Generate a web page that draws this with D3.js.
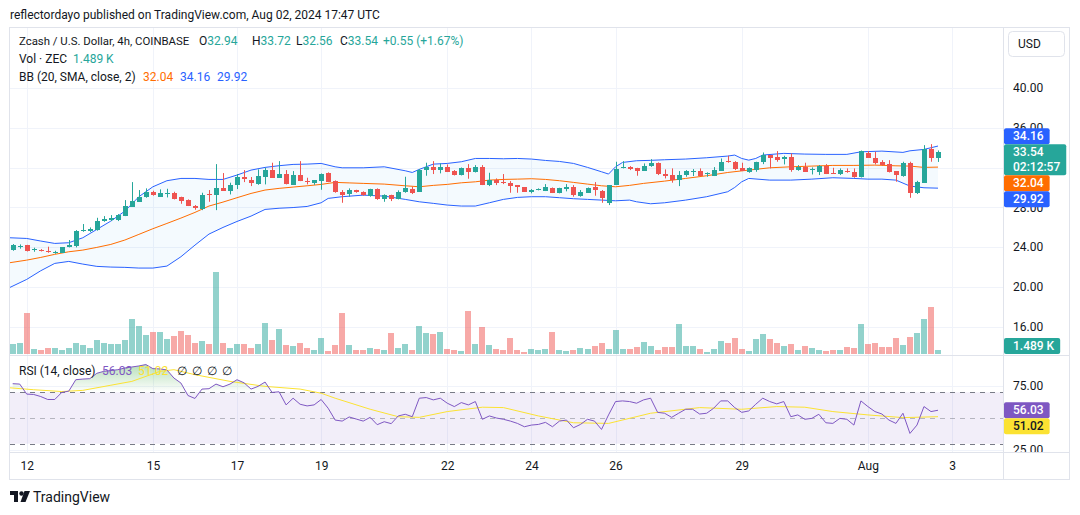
<!DOCTYPE html>
<html>
<head>
<meta charset="utf-8">
<script src="https://cdn.jsdelivr.net/npm/d3@7"></script>
<style>
  body { margin: 0; background: #ffffff; }
  text { font-family: Roboto, "Liberation Sans", sans-serif; }
</style>
</head>
<body>
<svg id="chart" width="1080" height="515"></svg>
<script>
// ZEC/USD 4h candles, Jul 11 16:00 -> Aug 02 16:00 (UTC)
const opens = [23.72,24.03,24.19,23.66,23.72,23.59,23.42,23.42,24.03,24.09,
  25.57,25.60,25.67,26.61,26.71,26.71,27.15,28.05,28.55,28.99,
  29.53,29.06,29.39,29.46,28.99,28.72,28.15,27.78,29.29,29.22,
  29.93,29.66,30.23,31.04,30.73,30.30,31.04,31.74,30.97,31.34,
  30.26,31.24,30.63,30.47,30.67,31.40,30.60,29.56,29.33,29.73,
  29.53,29.12,29.80,28.79,29.22,28.82,29.49,29.80,29.56,31.74,
  32.07,31.74,32.04,31.61,31.24,31.97,31.54,32.04,30.23,30.73,
  30.56,30.47,30.23,29.99,29.53,29.73,29.63,29.93,29.43,29.86,
  30.06,29.12,29.46,29.99,29.63,28.45,30.23,31.91,32.07,31.97,
  31.67,32.14,32.48,31.34,31.24,30.73,31.24,31.57,31.64,31.30,
  31.14,31.67,32.64,32.54,31.97,31.57,31.74,32.58,33.25,33.05,
  32.81,33.05,31.74,32.07,31.74,31.57,32.14,31.47,31.30,31.64,
  31.54,31.07,33.48,32.91,32.58,32.34,31.64,31.17,32.48,29.39,
  30.46,33.82,32.94];
const highs = [24.30,24.26,24.22,23.93,23.79,24.03,23.62,24.00,24.70,25.70,
  26.31,25.97,26.94,27.11,27.21,27.31,28.72,30.53,29.73,29.90,
  29.66,29.80,29.86,29.56,29.06,28.79,28.22,29.46,29.73,32.34,
  31.44,30.47,31.34,31.74,31.04,31.81,31.97,32.48,32.64,31.74,
  31.64,32.64,30.97,30.73,31.40,31.51,30.70,29.73,29.90,29.76,
  29.60,29.86,29.90,29.30,29.26,29.70,31.07,30.06,31.84,32.48,
  32.64,32.41,32.31,31.74,32.00,32.34,32.24,32.24,31.47,30.90,
  31.34,30.63,30.23,29.99,29.83,29.90,30.33,29.99,29.96,30.33,
  30.23,29.73,29.99,30.53,29.73,30.23,32.58,32.64,32.14,31.97,
  32.41,32.84,32.51,31.81,31.91,31.64,31.74,31.84,31.91,31.51,
  32.04,32.91,33.18,32.64,32.48,32.01,32.58,33.51,33.25,33.65,
  33.18,33.41,32.24,32.48,32.01,32.24,32.34,31.97,31.91,31.91,
  31.91,33.71,33.65,33.58,32.74,32.74,31.64,32.58,32.58,30.66,
  34.25,34.35,33.72];
const lows = [23.62,23.83,23.55,23.52,23.55,23.42,23.32,23.40,23.96,23.96,
  25.53,25.50,25.64,26.54,26.61,26.61,27.11,28.05,28.55,28.96,
  29.16,29.06,28.99,28.79,28.35,28.12,27.75,27.71,28.55,27.71,
  29.66,29.29,29.83,30.53,30.13,30.26,30.30,30.97,30.97,30.30,
  30.26,30.63,30.30,30.26,29.76,30.53,29.46,28.45,29.06,29.46,
  29.16,29.06,28.75,28.55,28.62,28.79,29.46,29.33,29.56,31.17,
  31.34,31.41,31.54,31.20,31.20,30.87,31.50,30.23,30.13,30.23,
  30.33,29.46,29.46,29.56,29.40,29.70,29.63,29.43,29.40,29.60,
  29.06,29.06,29.46,29.16,28.45,28.22,30.23,31.91,31.74,31.17,
  31.67,32.07,31.24,30.90,30.47,30.13,31.07,31.14,31.17,31.07,
  31.14,31.67,32.48,31.74,31.64,31.47,31.57,32.34,31.91,32.58,
  32.31,31.57,31.67,31.57,31.30,31.24,31.34,31.41,31.24,31.47,
  30.97,31.00,32.98,32.31,32.17,31.50,30.57,31.07,28.95,29.33,
  30.46,32.58,32.56];
const closes = [24.19,24.13,23.62,23.79,23.59,23.46,23.52,23.99,24.23,25.60,
  25.74,25.77,26.61,26.78,26.91,27.18,28.12,28.62,29.02,29.53,
  29.22,29.43,29.46,28.86,28.62,28.15,27.88,29.19,29.19,29.90,
  29.66,30.26,31.07,30.83,30.47,31.14,31.74,30.97,31.34,30.30,
  31.24,30.63,30.53,30.73,31.34,30.57,29.56,29.22,29.73,29.49,
  29.19,29.80,28.79,29.22,28.79,29.56,29.90,29.46,31.74,32.07,
  31.74,32.07,31.57,31.27,31.97,31.54,32.04,30.23,30.73,30.40,
  30.47,30.16,29.99,29.56,29.73,29.86,29.99,29.46,29.93,30.06,
  29.22,29.53,29.93,29.73,28.92,30.23,31.81,32.01,31.84,31.67,
  32.14,32.48,31.30,31.14,30.73,31.24,31.64,31.67,31.17,31.40,
  31.74,32.54,32.51,31.84,31.64,31.94,32.58,33.25,32.91,32.74,
  33.05,31.74,32.07,31.57,31.84,32.14,31.34,31.41,31.74,31.54,
  31.07,33.65,32.98,32.41,32.24,31.57,31.24,32.48,29.39,30.56,
  33.82,32.99,33.54];
// volume in thousands of ZEC
const volumesK = [3.7,4.1,15.3,1.9,1.5,2.2,2.2,1.5,2.2,4.1,
  3.3,2.2,5.2,4.1,3.7,3.7,5.2,13.0,10.4,7.1,
  8.2,8.2,5.6,6.7,8.6,7.1,4.1,4.8,3.7,30.5,
  4.1,2.2,3.7,3.7,2.2,3.7,11.5,5.2,9.3,3.3,
  3.0,4.1,2.2,1.5,6.0,1.1,3.3,15.3,3.3,1.5,
  1.5,2.2,1.9,1.5,7.8,2.2,3.7,1.5,10.4,7.8,
  7.4,8.2,1.9,1.5,1.1,16.0,3.7,10.0,3.3,1.9,
  1.5,6.0,1.5,0.7,1.9,1.5,1.9,8.2,1.5,1.1,
  1.5,2.2,1.9,3.0,4.1,1.9,8.9,1.9,1.9,2.6,
  4.5,3.0,1.5,2.6,2.6,11.2,3.0,3.0,1.9,0.7,
  1.9,4.8,4.1,6.0,1.9,1.1,5.6,7.4,5.6,4.1,
  3.0,3.7,1.5,3.0,2.2,1.5,1.1,1.5,1.5,2.6,
  2.2,11.2,3.7,4.1,2.6,2.6,6.0,3.3,6.3,7.8,
  13.0,17.5,1.489];

// Bollinger bands (20, 2) as [bar index, price]
const bbUpper = [[-0.4,24.93],[2,24.86],[4,24.60],[6,24.36],[8,24.43],[10,24.93],[12,25.77],[14,26.61],[16,27.61],[18,29.06],[19,29.56],[20,30.06],[22,30.67],[24,30.90],[26,30.90],[28,30.80],[30,30.80],[32,31.24],[34,31.74],[36,32.01],[38,32.18],[40,32.31],[42,32.34],[44,32.41],[46,32.07],[47,31.97],[50,31.97],[53,32.07],[56,31.67],[57,31.50],[58,31.81],[60,32.34],[62,32.41],[64,32.58],[66,32.91],[68,32.91],[70,32.88],[72,32.91],[74,32.85],[76,32.71],[78,32.61],[80,32.41],[82,32.01],[84,31.57],[85,31.34],[86,32.07],[87,32.51],[89,32.68],[91,32.72],[93,32.78],[96,32.85],[99,32.98],[102,33.15],[103,33.25],[104,32.91],[105,32.74],[106,32.91],[107,33.25],[110,33.42],[113,33.35],[116,33.32],[119,33.32],[121,33.58],[124,33.65],[127,33.52],[128,33.68],[130,33.82],[132,34.16]];
const bbMiddle = [[-0.4,22.42],[2,22.68],[4,22.95],[6,23.26],[8,23.52],[10,23.69],[12,23.96],[14,24.26],[16,24.70],[18,25.27],[20,25.84],[22,26.37],[24,26.91],[26,27.48],[28,28.12],[30,28.52],[32,28.96],[34,29.39],[36,29.73],[38,29.90],[40,30.03],[42,30.16],[44,30.30],[46,30.50],[48,30.45],[50,30.40],[53,30.33],[56,30.16],[58,30.06],[60,30.20],[62,30.30],[64,30.46],[66,30.56],[68,30.73],[70,30.80],[72,30.83],[74,30.87],[76,30.80],[78,30.67],[80,30.50],[82,30.33],[84,30.16],[86,30.06],[88,30.20],[90,30.40],[93,30.63],[96,30.90],[99,31.17],[102,31.50],[105,31.74],[108,31.97],[111,32.07],[114,32.14],[117,32.21],[120,32.21],[123,32.24],[126,32.17],[128,32.14],[130,32.01],[132,32.04]];
const bbLower = [[-0.4,19.93],[2,20.74],[4,21.61],[6,22.35],[8,22.55],[10,22.28],[12,22.05],[14,21.98],[16,21.95],[18,21.88],[20,21.88],[22,22.08],[24,23.02],[26,24.19],[28,25.30],[30,25.97],[32,26.57],[34,27.11],[36,27.78],[38,27.90],[40,27.97],[42,28.08],[44,28.45],[45,28.89],[47,29.06],[50,29.22],[53,29.12],[56,28.79],[58,28.55],[60,28.39],[62,28.22],[64,28.12],[66,28.12],[68,28.45],[70,28.79],[72,28.99],[74,29.06],[76,29.06],[78,28.96],[80,28.86],[82,28.79],[84,28.72],[86,28.65],[88,28.72],[89,28.55],[91,28.35],[93,28.45],[96,28.72],[99,29.06],[102,29.56],[103,29.99],[104,30.56],[105,30.90],[108,30.73],[111,30.73],[114,30.83],[117,30.97],[120,30.90],[122,30.83],[124,30.83],[126,30.73],[128,30.13],[130,29.96],[132,29.92]];

// RSI (14) per bar and its 14-bar moving average as [bar index, value]
const rsiValues = [76.7,76.4,68.6,68.3,66.7,64.4,64.4,69.9,70.9,79.8,
  80.3,80.6,84.8,86.3,86.9,87.6,88.9,89.7,90.5,91.6,
  88.4,88.2,87.4,81.1,77.2,67.5,65.2,72.5,72.8,76.4,
  74.3,76.4,79.8,77.4,72.5,74.6,78.0,69.9,70.4,60.2,
  65.4,60.7,59.4,60.2,64.4,57.6,48.4,47.6,50.8,49.2,
  47.6,50.5,44.8,47.1,45.6,51.6,52.9,51.0,65.4,65.9,
  64.1,65.4,61.5,58.9,62.0,60.2,62.8,49.0,51.6,50.0,
  49.0,47.6,45.8,43.2,44.5,45.0,46.6,43.2,47.6,48.4,
  42.4,45.0,49.0,47.6,41.1,52.4,62.8,63.3,62.8,61.5,
  64.1,65.4,54.4,53.7,50.5,53.7,56.8,56.8,53.1,53.7,
  57.6,63.3,63.3,58.1,54.4,55.5,60.7,65.4,62.8,61.0,
  62.8,51.0,52.4,49.0,49.7,52.9,46.3,45.8,49.7,49.0,
  44.5,63.3,58.9,55.0,53.1,48.4,45.8,53.7,38.0,44.5,
  58.9,55.0,56.03];
const rsiMA = [[-0.4,73.5],[3,72.0],[7,70.6],[10,71.5],[14,75.5],[17,78.5],[21,86.3],[23,87.6],[26,83.7],[31,78.5],[36,74.6],[41,72.5],[44,69.3],[46,65.4],[51,56.8],[55,51.0],[58,50.5],[62,55.0],[67,58.4],[70,58.1],[75,51.6],[80,46.3],[85,45.8],[91,53.7],[98,58.1],[104,56.8],[109,58.9],[113,58.4],[117,55.0],[122,52.4],[127,50.3],[132,51.02]];

// axis ticks
const priceTicks = [16, 20, 24, 28, 32, 36, 40];
const rsiTicks = [25, 75];
const timeTickIdx = [2, 20, 32, 44, 62, 74, 86, 104, 122, 134];
const timeTickLabels = ["12", "15", "17", "19", "22", "24", "26", "29", "Aug", "3"];

const upColor = "#26a69a", downColor = "#ef5350";
const textColor = "#131722", lineColor = "#e0e3eb", gridColor = "#f0f3fa";
const blue = "#2962ff", orange = "#ff6d00", purple = "#7e57c2", yellow = "#fbe232";

drawChart();

function drawChart() {
    const svg = d3.select("#chart");

    const paneLeft = 10, paneRight = 1003.5;
    const priceTop = 28, priceBottom = 355;
    const rsiTop = 356, rsiBottom = 452;

    const x = d3.scaleLinear().domain([0, 132]).range([12.7, 938]);
    const yPrice = d3.scaleLinear().domain([16, 40]).range([326.5, 88]);
    const yVol = d3.scaleLinear().domain([0, 30.5]).range([354, 272]);
    const yRsi = d3.scaleLinear().domain([30, 70]).range([443.7, 392.3]);

    const defs = svg.append("defs");
    defs.append("clipPath").attr("id", "clipPrice").append("rect")
        .attr("x", paneLeft).attr("y", priceTop).attr("width", paneRight - paneLeft).attr("height", priceBottom - priceTop);
    defs.append("clipPath").attr("id", "clipRsi").append("rect")
        .attr("x", paneLeft).attr("y", rsiTop).attr("width", paneRight - paneLeft).attr("height", rsiBottom - rsiTop);
    defs.append("clipPath").attr("id", "clipOb").append("rect")
        .attr("x", paneLeft).attr("y", rsiTop).attr("width", paneRight - paneLeft).attr("height", yRsi(70) - rsiTop);
    defs.append("clipPath").attr("id", "clipRsiAxis").append("rect")
        .attr("x", 1004).attr("y", rsiTop).attr("width", 66).attr("height", rsiBottom - rsiTop);
    const grad = defs.append("linearGradient").attr("id", "obGrad")
        .attr("gradientUnits", "userSpaceOnUse")
        .attr("x1", 0).attr("x2", 0).attr("y1", yRsi(100)).attr("y2", yRsi(70));
    grad.append("stop").attr("offset", 0).attr("stop-color", "#4caf50").attr("stop-opacity", 0.55);
    grad.append("stop").attr("offset", 1).attr("stop-color", "#4caf50").attr("stop-opacity", 0);

    // header line
    svg.append("text")
        .attr("x", 10).attr("y", 19)
        .attr("font-size", 12).attr("fill", textColor)
        .text("reflectordayo published on TradingView.com, Aug 02, 2024 17:47 UTC");

    // grid
    const grid = svg.append("g").attr("shape-rendering", "crispEdges");
    grid.selectAll(".hgrid").data(priceTicks).enter().append("line")
        .attr("x1", paneLeft).attr("x2", paneRight)
        .attr("y1", d => Math.round(yPrice(d)) + 0.5).attr("y2", d => Math.round(yPrice(d)) + 0.5)
        .attr("stroke", gridColor);
    grid.selectAll(".rgrid").data(rsiTicks).enter().append("line")
        .attr("x1", paneLeft).attr("x2", paneRight)
        .attr("y1", d => Math.round(yRsi(d)) + 0.5).attr("y2", d => Math.round(yRsi(d)) + 0.5)
        .attr("stroke", gridColor);
    grid.selectAll(".vgrid").data(timeTickIdx).enter().append("line")
        .attr("x1", d => Math.round(x(d)) + 0.5).attr("x2", d => Math.round(x(d)) + 0.5)
        .attr("y1", priceTop).attr("y2", rsiBottom)
        .attr("stroke", gridColor);

    // ---- price pane ----
    const price = svg.append("g").attr("clip-path", "url(#clipPrice)");
    const bars = closes.map((c, i) => ({ i: i, o: opens[i], h: highs[i], l: lows[i], c: c, v: volumesK[i] }));

    // volume
    price.selectAll(".vol").data(bars).enter().append("rect")
        .attr("x", d => Math.round(x(d.i)) - 3)
        .attr("width", 6)
        .attr("y", d => yVol(d.v))
        .attr("height", d => yVol(0) - yVol(d.v))
        .attr("fill", d => d.c >= d.o ? upColor : downColor)
        .attr("fill-opacity", 0.5)
        .attr("shape-rendering", "crispEdges");

    // bollinger fill + lines
    const bandLine = d3.line().x(d => x(d[0])).y(d => yPrice(d[1]));
    price.append("path")
        .attr("d", bandLine(bbUpper.concat(bbLower.slice().reverse())) + "Z")
        .attr("fill", "#2196f3").attr("fill-opacity", 0.05);
    price.append("path").datum(bbMiddle).attr("d", bandLine)
        .attr("fill", "none").attr("stroke", orange).attr("stroke-width", 1);
    [bbUpper, bbLower].forEach(band => {
        price.append("path").datum(band).attr("d", bandLine)
            .attr("fill", "none").attr("stroke", blue).attr("stroke-width", 1);
    });

    // candles
    const candles = price.selectAll(".candle").data(bars).enter().append("g")
        .attr("fill", d => d.c >= d.o ? upColor : downColor)
        .attr("stroke", d => d.c >= d.o ? upColor : downColor);
    candles.append("line")
        .attr("x1", d => Math.round(x(d.i)) + 0.5).attr("x2", d => Math.round(x(d.i)) + 0.5)
        .attr("y1", d => yPrice(d.h)).attr("y2", d => yPrice(d.l))
        .attr("stroke-width", 1);
    candles.append("rect")
        .attr("x", d => Math.round(x(d.i)) - 2)
        .attr("width", 5)
        .attr("y", d => yPrice(Math.max(d.o, d.c)))
        .attr("height", d => Math.max(1, Math.abs(yPrice(d.o) - yPrice(d.c))))
        .attr("stroke", "none")
        .attr("shape-rendering", "crispEdges");

    // ---- RSI pane ----
    const rsi = svg.append("g").attr("clip-path", "url(#clipRsi)");
    rsi.append("rect")
        .attr("x", paneLeft).attr("width", paneRight - paneLeft)
        .attr("y", yRsi(70)).attr("height", yRsi(30) - yRsi(70))
        .attr("fill", purple).attr("fill-opacity", 0.1);
    [70, 50, 30].forEach(level => {
        rsi.append("line")
            .attr("x1", paneLeft).attr("x2", paneRight)
            .attr("y1", Math.round(yRsi(level)) + 0.5).attr("y2", Math.round(yRsi(level)) + 0.5)
            .attr("stroke", "#787b86")
            .attr("stroke-opacity", level === 50 ? 0.5 : 1)
            .attr("stroke-dasharray", "5,5");
    });
    rsi.append("g").attr("clip-path", "url(#clipOb)").append("path")
        .datum(rsiValues)
        .attr("d", d3.area().x((d, i) => x(i)).y0(yRsi(70)).y1(d => yRsi(d)))
        .attr("fill", "url(#obGrad)");
    rsi.append("path").datum(rsiMA)
        .attr("d", d3.line().x(d => x(d[0])).y(d => yRsi(d[1])))
        .attr("fill", "none").attr("stroke", yellow).attr("stroke-width", 1);
    rsi.append("path").datum(rsiValues)
        .attr("d", d3.line().x((d, i) => x(i)).y(d => yRsi(d)))
        .attr("fill", "none").attr("stroke", purple).attr("stroke-width", 1);

    // ---- frame ----
    const frame = svg.append("g").attr("stroke", lineColor).attr("fill", "none").attr("shape-rendering", "crispEdges");
    frame.append("rect").attr("x", 9.5).attr("y", 27.5).attr("width", 1060).attr("height", 452);
    frame.append("line").attr("x1", 1003.5).attr("x2", 1003.5).attr("y1", 27.5).attr("y2", 479.5);
    frame.append("line").attr("x1", 9.5).attr("x2", 1069.5).attr("y1", 355.5).attr("y2", 355.5);
    frame.append("line").attr("x1", 9.5).attr("x2", 1069.5).attr("y1", 452.5).attr("y2", 452.5);

    // ---- axes ----
    const styleAxis = g => {
        g.select(".domain").remove();
        g.selectAll("text").attr("fill", textColor).attr("font-size", 12).attr("font-family", "Roboto, 'Liberation Sans', sans-serif");
    };
    svg.append("g").attr("transform", "translate(1004,0)")
        .call(d3.axisRight(yPrice).tickValues(priceTicks).tickSize(0).tickPadding(9).tickFormat(d3.format(".2f")))
        .call(styleAxis);
    svg.append("g").attr("clip-path", "url(#clipRsiAxis)")
        .append("g").attr("transform", "translate(1004,0)")
        .call(d3.axisRight(yRsi).tickValues(rsiTicks).tickSize(0).tickPadding(9).tickFormat(d3.format(".2f")))
        .call(styleAxis);
    svg.append("g").attr("transform", "translate(0,452)")
        .call(d3.axisBottom(x).tickValues(timeTickIdx).tickSize(0).tickPadding(9.5).tickFormat((d, i) => timeTickLabels[i]))
        .call(styleAxis);

    // USD button
    svg.append("rect").attr("x", 1008.5).attr("y", 31.5).attr("width", 56).attr("height", 25).attr("rx", 4)
        .attr("fill", "#ffffff").attr("stroke", lineColor);
    svg.append("text").attr("x", 1018).attr("y", 48).attr("font-size", 12).attr("fill", textColor).text("USD");

    // ---- price tags ----
    const last = bars[bars.length - 1];
    const fmt2 = d3.format(".2f");
    const tagH = 16;

    function tag(top, lines, fill, fg) {
        const g = svg.append("g");
        const r = g.append("rect").attr("x", 1004).attr("y", top)
            .attr("height", tagH * lines.length - (lines.length - 1)).attr("rx", 2).attr("fill", fill);
        let w = 0;
        lines.forEach((s, k) => {
            const t = g.append("text").attr("x", 1013).attr("y", top + 8 + k * 15).attr("dy", "0.35em")
                .attr("font-size", 12).attr("font-weight", 500).attr("fill", fg).text(s);
            w = Math.max(w, t.node().getComputedTextLength());
        });
        r.attr("width", w + 15);
    }

    // last price stays on its level, the other labels are pushed away from it
    const mainTop = yPrice(last.c) - 8;
    const mainH = 31;
    const upVal = bbUpper[bbUpper.length - 1][1];
    const midVal = bbMiddle[bbMiddle.length - 1][1];
    const lowVal = bbLower[bbLower.length - 1][1];
    const upTop = Math.min(yPrice(upVal) - 8, mainTop - tagH);
    const midTop = Math.max(yPrice(midVal) - 8, mainTop + mainH);
    const lowTop = Math.max(yPrice(lowVal) - 8, midTop + tagH);
    tag(upTop, [fmt2(upVal)], blue, "#ffffff");
    tag(mainTop, [fmt2(last.c), "02:12:57"], upColor, "#ffffff");
    tag(midTop, [fmt2(midVal)], orange, "#ffffff");
    tag(lowTop, [fmt2(lowVal)], blue, "#ffffff");
    tag(Math.min(yVol(last.v) - 8, priceBottom - 1 - tagH), [d3.format(".3f")(last.v) + " K"], upColor, "#ffffff");

    const rsiLast = rsiValues[rsiValues.length - 1];
    const maLast = rsiMA[rsiMA.length - 1][1];
    const rsiTagTop = yRsi(rsiLast) - 8;
    tag(rsiTagTop, [fmt2(rsiLast)], purple, "#ffffff");
    tag(Math.max(yRsi(maLast) - 8, rsiTagTop + tagH), [fmt2(maLast)], yellow, textColor);

    // ---- legends ----
    const prevClose = closes[closes.length - 2];
    const chg = last.c - prevClose;
    const legend = svg.append("g").attr("font-size", 12);

    const l1 = legend.append("text").attr("y", 45).attr("fill", textColor);
    l1.append("tspan").attr("x", 19).attr("font-size", 11.4).text("Zcash / U.S. Dollar, 4h, COINBASE");
    const ohlcX = [199, 252, 296, 340];
    [["O", last.o], ["H", last.h], ["L", last.l], ["C", last.c]].forEach((p, k) => {
        l1.append("tspan").attr("x", ohlcX[k]).attr("fill", textColor).text(p[0]);
        l1.append("tspan").attr("fill", upColor).text(fmt2(p[1]));
    });
    l1.append("tspan").attr("x", 383).attr("fill", upColor)
        .text(d3.format("+.2f")(chg) + " (" + d3.format("+.2f")(chg / prevClose * 100) + "%)");

    const l2 = legend.append("text").attr("y", 63).attr("fill", textColor);
    l2.append("tspan").attr("x", 19).text("Vol \u00b7 ZEC");
    l2.append("tspan").attr("x", 73).attr("fill", upColor).text(d3.format(".3f")(last.v) + " K");

    const l3 = legend.append("text").attr("y", 81).attr("fill", textColor);
    l3.append("tspan").attr("x", 19).text("BB (20, SMA, close, 2)");
    l3.append("tspan").attr("x", 143).attr("fill", orange).text(fmt2(midVal));
    l3.append("tspan").attr("x", 180).attr("fill", blue).text(fmt2(upVal));
    l3.append("tspan").attr("x", 217).attr("fill", blue).text(fmt2(lowVal));

    const l4 = legend.append("text").attr("y", 375).attr("fill", textColor);
    l4.append("tspan").attr("x", 19).text("RSI (14, close)");
    l4.append("tspan").attr("x", 102).attr("fill", purple).text(fmt2(rsiLast));
    l4.append("tspan").attr("x", 138).attr("fill", yellow).text(fmt2(maLast));
    [177, 192, 207, 222].forEach(px => {
        l4.append("tspan").attr("x", px).text("\u2205");
    });

    // ---- TradingView logo ----
    const logo = svg.append("g").attr("fill", textColor);
    logo.append("path").attr("d", "M10,491 H18 V502 H14 V495 H10 Z");
    logo.append("circle").attr("cx", 21.5).attr("cy", 493.5).attr("r", 2.2);
    logo.append("path").attr("d", "M24.5,491 H30 L25.5,502 H20.5 Z");
    svg.append("text").attr("x", 33).attr("y", 502).attr("font-size", 14).attr("fill", textColor).text("TradingView");
}
</script>
</body>
</html>
